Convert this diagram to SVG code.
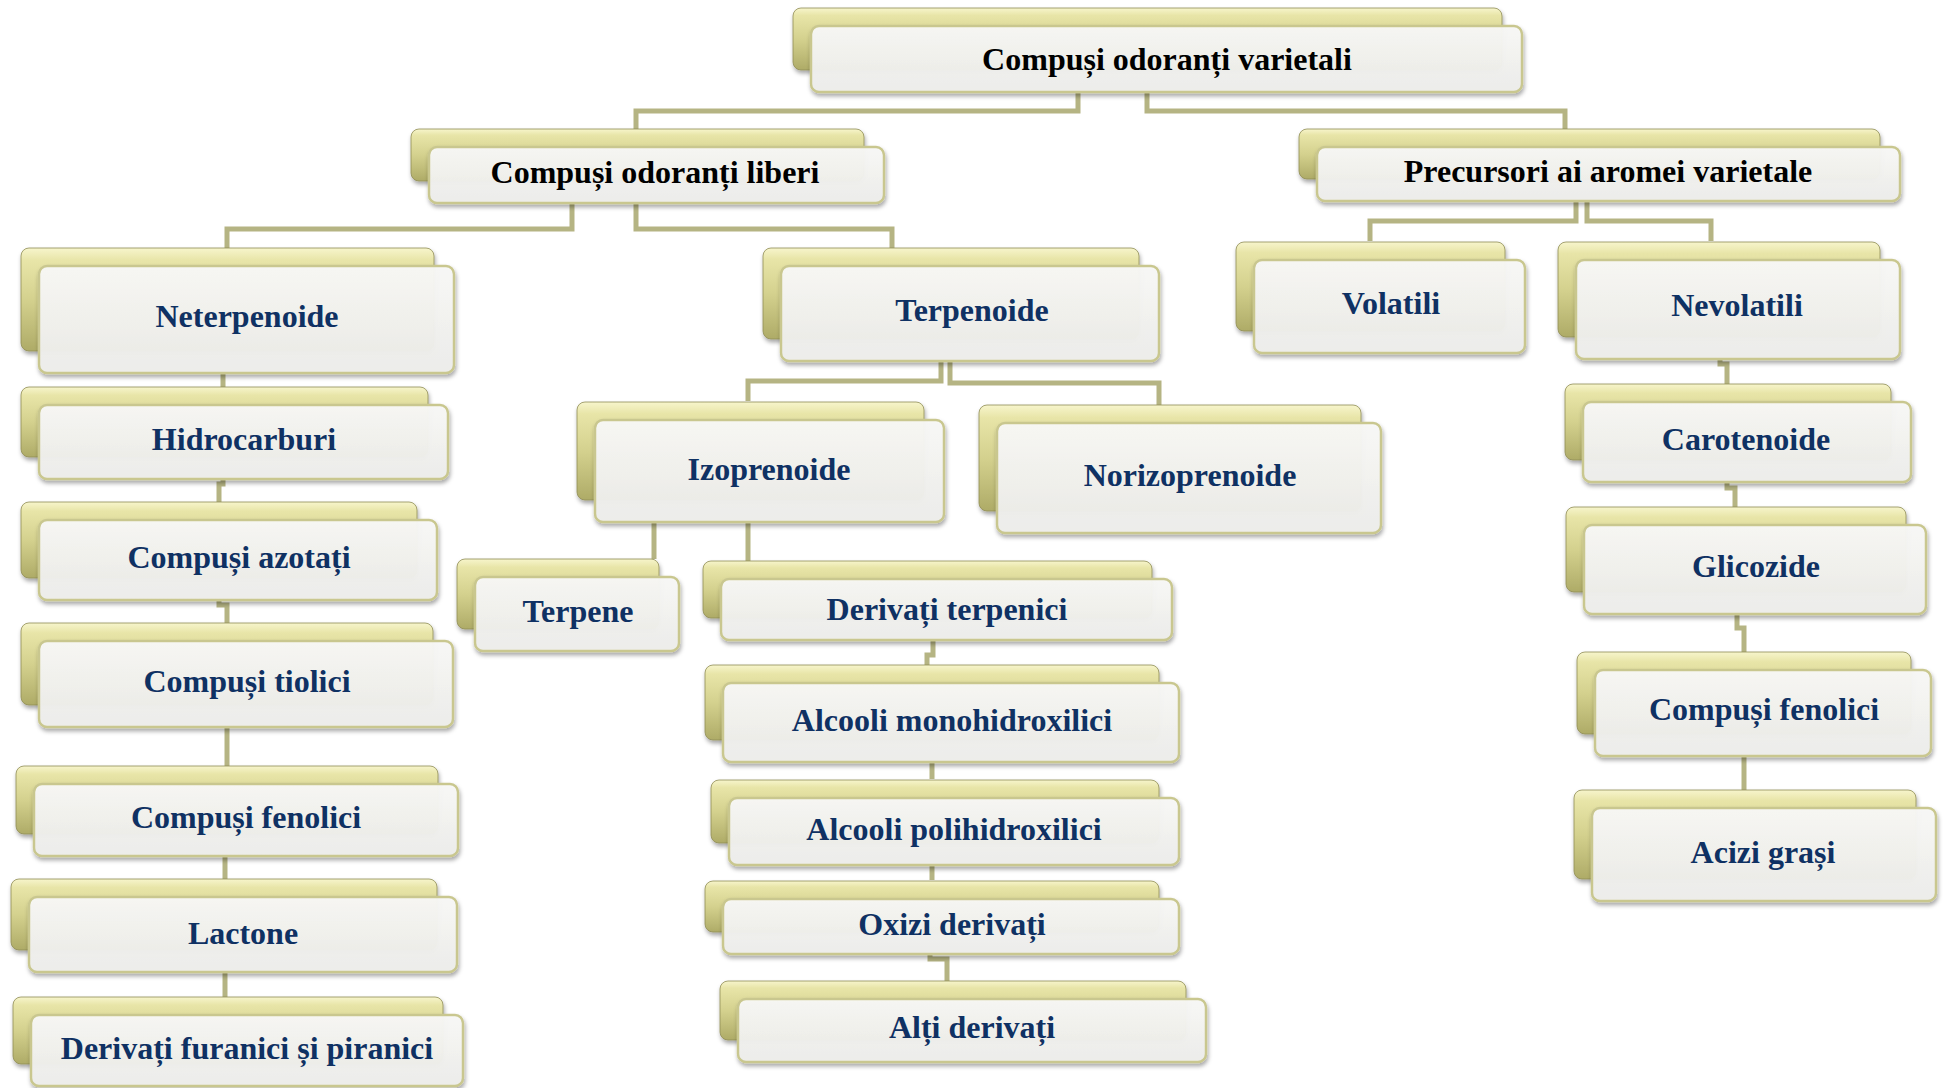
<svg xmlns="http://www.w3.org/2000/svg" width="1947" height="1088" viewBox="0 0 1947 1088">
<defs>
<linearGradient id="gBack" x1="0" y1="0" x2="0" y2="1">
<stop offset="0" stop-color="#f7f5cc"/>
<stop offset="0.12" stop-color="#e8e5a8"/>
<stop offset="0.5" stop-color="#d4d18e"/>
<stop offset="1" stop-color="#aeab67"/>
</linearGradient>
<linearGradient id="gFront" x1="0" y1="0" x2="0" y2="1">
<stop offset="0" stop-color="#f8f8f6"/>
<stop offset="1" stop-color="#ededea"/>
</linearGradient>
<filter id="sh" x="-10%" y="-20%" width="120%" height="150%">
<feDropShadow dx="1" dy="3" stdDeviation="2" flood-color="#000" flood-opacity="0.35"/>
</filter>
</defs>
<style>
.back{fill:url(#gBack);stroke:#8f8d55;stroke-width:0.8;filter:url(#sh)}
.front{fill:url(#gFront);fill-opacity:0.96;stroke:#c9c78f;stroke-width:2.5;filter:url(#sh)}
.t{font-family:"Liberation Serif","Times New Roman",serif;font-weight:bold;font-size:32px;text-anchor:middle;fill:#0f3163}
.k{fill:#000}
.c{fill:none;stroke:#b5b483;stroke-width:5}
</style>
<rect width="1947" height="1088" fill="#fff"/>
<g id="connectors">
<path class="c" d="M1078,92 V111 H636 V130"/>
<path class="c" d="M1147,92 V111 H1565 V130"/>
<path class="c" d="M572,203 V229 H227 V248"/>
<path class="c" d="M636,203 V229 H892 V248"/>
<path class="c" d="M1576,201 V221 H1370 V241"/>
<path class="c" d="M1587,201 V221 H1711 V241"/>
<path class="c" d="M941,361 V381 H748 V401"/>
<path class="c" d="M950,361 V383 H1159 V405"/>
<path class="c" d="M654,522 V559"/>
<path class="c" d="M748,522 V561"/>
<path class="c" d="M223,373 V387"/>
<path class="c" d="M223,479 V484 H219 V502"/>
<path class="c" d="M219,600 V605 H227 V623"/>
<path class="c" d="M227,727 V767"/>
<path class="c" d="M225,856 V880"/>
<path class="c" d="M225,972 V997"/>
<path class="c" d="M1720,359 V364 H1727 V385"/>
<path class="c" d="M1727,482 V488 H1735 V509"/>
<path class="c" d="M1737,614 V628 H1744 V652"/>
<path class="c" d="M1744,756 V791"/>
<path class="c" d="M933,640 V655 H927 V665"/>
<path class="c" d="M932,762 V779"/>
<path class="c" d="M932,865 V880"/>
<path class="c" d="M930,954 V959 H947 V981"/>
</g>
<g id="n1"><rect class="back" x="793" y="8" width="709" height="62" rx="8"/><rect class="front" x="811" y="26" width="711" height="66" rx="8"/><text class="t k" x="1167" y="70">Compuși odoranți varietali</text></g>
<g id="n2"><rect class="back" x="411" y="129" width="453" height="52" rx="8"/><rect class="front" x="429" y="147" width="455" height="56" rx="8"/><text class="t k" x="655" y="183">Compuși odoranți liberi</text></g>
<g id="n3"><rect class="back" x="1299" y="129" width="581" height="50" rx="8"/><rect class="front" x="1317" y="147" width="583" height="54" rx="8"/><text class="t k" x="1608" y="182">Precursori ai aromei varietale</text></g>
<g id="n4"><rect class="back" x="21" y="248" width="413" height="103" rx="8"/><rect class="front" x="39" y="266" width="415" height="107" rx="8"/><text class="t" x="247" y="327">Neterpenoide</text></g>
<g id="n5"><rect class="back" x="21" y="387" width="407" height="70" rx="8"/><rect class="front" x="39" y="405" width="409" height="74" rx="8"/><text class="t" x="244" y="450">Hidrocarburi</text></g>
<g id="n6"><rect class="back" x="21" y="502" width="396" height="76" rx="8"/><rect class="front" x="39" y="520" width="398" height="80" rx="8"/><text class="t" x="239" y="568">Compuși azotați</text></g>
<g id="n7"><rect class="back" x="21" y="623" width="412" height="82" rx="8"/><rect class="front" x="39" y="641" width="414" height="86" rx="8"/><text class="t" x="247" y="692">Compuși tiolici</text></g>
<g id="n8"><rect class="back" x="16" y="766" width="422" height="68" rx="8"/><rect class="front" x="34" y="784" width="424" height="72" rx="8"/><text class="t" x="246" y="828">Compuși fenolici</text></g>
<g id="n9"><rect class="back" x="11" y="879" width="426" height="71" rx="8"/><rect class="front" x="29" y="897" width="428" height="75" rx="8"/><text class="t" x="243" y="944">Lactone</text></g>
<g id="n10"><rect class="back" x="13" y="997" width="430" height="67" rx="8"/><rect class="front" x="31" y="1015" width="432" height="71" rx="8"/><text class="t" x="247" y="1059">Derivați furanici și piranici</text></g>
<g id="n11"><rect class="back" x="763" y="248" width="376" height="91" rx="8"/><rect class="front" x="781" y="266" width="378" height="95" rx="8"/><text class="t" x="972" y="321">Terpenoide</text></g>
<g id="n12"><rect class="back" x="577" y="402" width="347" height="98" rx="8"/><rect class="front" x="595" y="420" width="349" height="102" rx="8"/><text class="t" x="769" y="480">Izoprenoide</text></g>
<g id="n13"><rect class="back" x="979" y="405" width="382" height="106" rx="8"/><rect class="front" x="997" y="423" width="384" height="110" rx="8"/><text class="t" x="1190" y="486">Norizoprenoide</text></g>
<g id="n14"><rect class="back" x="457" y="559" width="202" height="70" rx="8"/><rect class="front" x="475" y="577" width="204" height="74" rx="8"/><text class="t" x="578" y="622">Terpene</text></g>
<g id="n15"><rect class="back" x="703" y="561" width="449" height="57" rx="8"/><rect class="front" x="721" y="579" width="451" height="61" rx="8"/><text class="t" x="947" y="620">Derivați terpenici</text></g>
<g id="n16"><rect class="back" x="705" y="665" width="454" height="75" rx="8"/><rect class="front" x="723" y="683" width="456" height="79" rx="8"/><text class="t" x="952" y="731">Alcooli monohidroxilici</text></g>
<g id="n17"><rect class="back" x="711" y="780" width="448" height="63" rx="8"/><rect class="front" x="729" y="798" width="450" height="67" rx="8"/><text class="t" x="954" y="840">Alcooli polihidroxilici</text></g>
<g id="n18"><rect class="back" x="705" y="881" width="454" height="51" rx="8"/><rect class="front" x="723" y="899" width="456" height="55" rx="8"/><text class="t" x="952" y="935">Oxizi derivați</text></g>
<g id="n19"><rect class="back" x="720" y="981" width="466" height="59" rx="8"/><rect class="front" x="738" y="999" width="468" height="63" rx="8"/><text class="t" x="972" y="1038">Alți derivați</text></g>
<g id="n20"><rect class="back" x="1236" y="242" width="269" height="89" rx="8"/><rect class="front" x="1254" y="260" width="271" height="93" rx="8"/><text class="t" x="1391" y="314">Volatili</text></g>
<g id="n21"><rect class="back" x="1558" y="242" width="322" height="95" rx="8"/><rect class="front" x="1576" y="260" width="324" height="99" rx="8"/><text class="t" x="1737" y="316">Nevolatili</text></g>
<g id="n22"><rect class="back" x="1565" y="384" width="326" height="76" rx="8"/><rect class="front" x="1583" y="402" width="328" height="80" rx="8"/><text class="t" x="1746" y="450">Carotenoide</text></g>
<g id="n23"><rect class="back" x="1566" y="507" width="340" height="85" rx="8"/><rect class="front" x="1584" y="525" width="342" height="89" rx="8"/><text class="t" x="1756" y="577">Glicozide</text></g>
<g id="n24"><rect class="back" x="1577" y="652" width="334" height="82" rx="8"/><rect class="front" x="1595" y="670" width="336" height="86" rx="8"/><text class="t" x="1764" y="720">Compuși fenolici</text></g>
<g id="n25"><rect class="back" x="1574" y="790" width="342" height="89" rx="8"/><rect class="front" x="1592" y="808" width="344" height="93" rx="8"/><text class="t" x="1763" y="863">Acizi grași</text></g>
</svg>
